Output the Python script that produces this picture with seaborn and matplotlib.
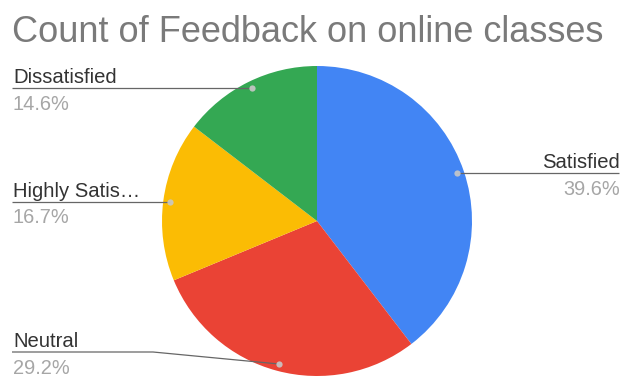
import numpy as np
import matplotlib
matplotlib.use("Agg")
import matplotlib.pyplot as plt
import seaborn as sns

# ---- data ----
categories = ["Satisfied", "Neutral", "Highly Satisfied", "Dissatisfied"]
counts = [19, 14, 8, 7]
colors = ["#4285F4", "#EA4335", "#FBBC04", "#34A853"]
title = "Count of Feedback on online classes"

sns.set_theme(style="white")
plt.rcParams["font.family"] = ["Liberation Sans", "DejaVu Sans"]

W, H = 622, 376
fig = plt.figure(figsize=(W / 100, H / 100), dpi=100)
ax = fig.add_axes([0, 0, 1, 1])

def py(y):
    return H - y

cx, cy, r = 317, py(221), 155
wedges, _ = ax.pie(counts, colors=colors, startangle=90, counterclock=False,
                   center=(cx, cy), radius=r,
                   wedgeprops=dict(linewidth=0))
ax.set_xlim(0, W)
ax.set_ylim(0, H)
ax.set_aspect("auto")
ax.axis("off")

total = sum(counts)
pcts = [c / total * 100 for c in counts]

def short(s):
    return s if len(s) <= 13 else s[:12] + "\u2026"

line_col = "#666666"
for i, w in enumerate(wedges):
    mid = np.deg2rad((w.theta1 + w.theta2) / 2)
    dx = cx + 0.955 * r * np.cos(mid)
    dy = cy + 0.955 * r * np.sin(mid)
    right = np.cos(mid) > 0
    if categories[i] == "Neutral":
        ly = py(352)
        xs = [dx, 153, 12]
        ys = [dy, ly, ly]
    elif right:
        ly = dy
        xs = [dx, 619]
        ys = [ly, ly]
    else:
        ly = dy
        xs = [dx, 12]
        ys = [ly, ly]
    ax.plot(xs, ys, color=line_col, lw=0.9, solid_capstyle="butt", zorder=3)
    ax.plot([dx], [dy], "o", ms=4.5, color="#c8c8c8", mec="none", alpha=0.9, zorder=4)
    tx = 620 if right else 13
    ha = "right" if right else "left"
    ax.text(tx, ly + 5, short(categories[i]), ha=ha, va="baseline",
            fontsize=14.6, color="#333333")
    ax.text(tx, ly - 6.5, f"{pcts[i]:.1f}%", ha=ha, va="top",
            fontsize=14.4, color="#a6a6a6")

fig.text(12 / W, 1 - 42 / H, title, ha="left", va="baseline",
         fontsize=26, color="#7a7a7a")

fig.savefig("out.png", dpi=100, facecolor="white")
